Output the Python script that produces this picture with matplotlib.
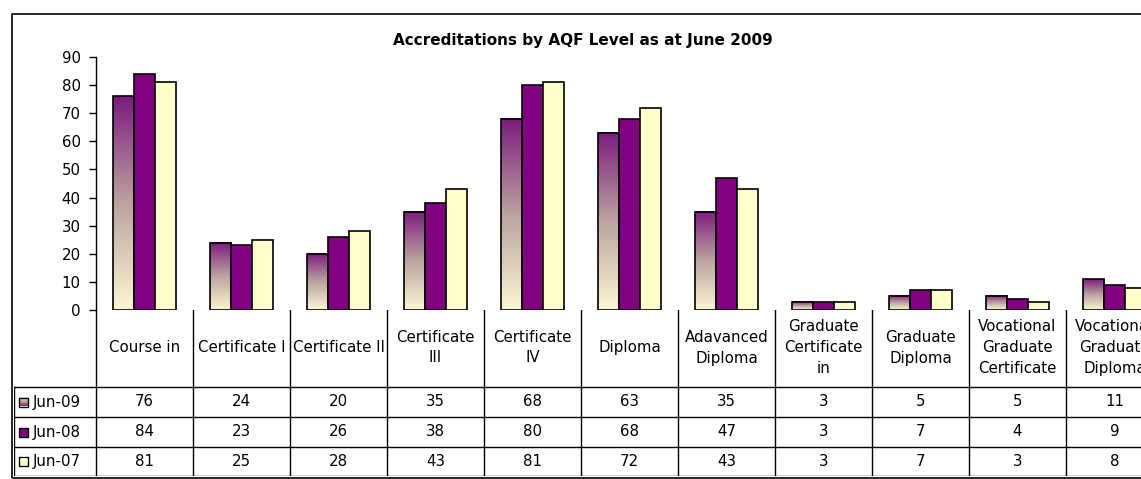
import matplotlib
matplotlib.use("Agg")
import matplotlib.pyplot as plt
import numpy as np
from matplotlib.colors import LinearSegmentedColormap
from matplotlib.patches import Rectangle

plt.rcParams['font.family'] = ['DejaVu Sans']

categories = ["Course in", "Certificate I", "Certificate II", "Certificate\nIII",
              "Certificate\nIV", "Diploma", "Adavanced\nDiploma",
              "Graduate\nCertificate\nin", "Graduate\nDiploma",
              "Vocational\nGraduate\nCertificate", "Vocational\nGraduate\nDiploma"]
series = ["Jun-09", "Jun-08", "Jun-07"]
jun09 = [76, 24, 20, 35, 68, 63, 35, 3, 5, 5, 11]
jun08 = [84, 23, 26, 38, 80, 68, 47, 3, 7, 4, 9]
jun07 = [81, 25, 28, 43, 81, 72, 43, 3, 7, 3, 8]
values = [jun09, jun08, jun07]
title = "Accreditations by AQF Level as at June 2009"

W, H = 1141, 479
fig = plt.figure(figsize=(W / 100, H / 100), dpi=100)

# gradient for Jun-09 (bottom cream -> top purple)
grad = LinearSegmentedColormap.from_list(
    "g", [(0.0, "#fbf7d2"), (0.5, "#bba3a0"), (1.0, "#7d1c7d")])
solid = {1: "#800080", 2: "#ffffcc"}
fs = 10.8

col_w = 97
x_left = 96
ax = fig.add_axes([x_left / W, 1 - 310 / H, 11 * col_w / W, (310 - 57) / H])
n = len(categories)
bw = 0.217
for s in range(3):
    for i in range(n):
        x0 = i + (s - 1.5) * bw
        v = values[s][i]
        if s == 0:
            g = np.linspace(0, 1, 200).reshape(-1, 1)
            ax.imshow(g, cmap=grad, origin="lower", aspect="auto",
                      extent=[x0, x0 + bw, 0, v], zorder=2)
            ax.add_patch(Rectangle((x0, 0), bw, v, fill=False,
                                   edgecolor="black", lw=1.2, zorder=3))
        else:
            ax.add_patch(Rectangle((x0, 0), bw, v, facecolor=solid[s],
                                   edgecolor="black", lw=1.2, zorder=3))
ax.set_xlim(-0.5, n - 0.5)
ax.set_ylim(0, 90)
ax.set_yticks(range(0, 91, 10))
ax.set_xticks([])
for sp in ["top", "right", "bottom"]:
    ax.spines[sp].set_visible(False)
ax.spines["left"].set_linewidth(1.0)
ax.tick_params(axis="y", length=5, width=1, labelsize=fs, pad=6)
ax.patch.set_alpha(0)

# data table below the plot
left_extra = (x_left - 14) / col_w
tb = fig.add_axes([14 / W, 1 - 476 / H, (x_left - 14 + 11 * col_w) / W, (476 - 310) / H])
tb.axis("off")
rows = [310, 387, 417, 447, 476]
lc = "black"
for i in range(n + 1):
    tb.plot([i - 0.5, i - 0.5], [310, 476], color=lc, lw=1)
for r in rows[1:]:
    tb.plot([-0.5 - left_extra, n - 0.5], [r, r], color=lc, lw=1)
tb.plot([-0.5 - left_extra, -0.5 - left_extra], [387, 476], color=lc, lw=1)
for i, c in enumerate(categories):
    tb.text(i, (310 + 387) / 2 - 1, c, ha="center", va="center", fontsize=fs,
            linespacing=1.5)
for s in range(3):
    yc = (rows[s + 1] + rows[s + 2]) / 2
    for i in range(n):
        tb.text(i, yc, str(values[s][i]), ha="center", va="center", fontsize=fs)
    kx = -0.5 - left_extra + 5 / col_w
    kw = 9 / col_w
    if s == 0:
        g = np.linspace(0, 1, 50).reshape(-1, 1)
        tb.imshow(g, cmap=grad, origin="upper", aspect="auto",
                  extent=[kx, kx + kw, yc + 4.5, yc - 4.5], zorder=2)
        tb.add_patch(Rectangle((kx, yc - 4.5), kw, 9, fill=False,
                               edgecolor="black", lw=1, zorder=3))
    else:
        tb.add_patch(Rectangle((kx, yc - 4.5), kw, 9, facecolor=solid[s],
                               edgecolor="black", lw=1, zorder=3))
    tb.text(kx + kw + 5 / col_w, yc, series[s], ha="left", va="center", fontsize=fs)
tb.set_xlim(-0.5 - left_extra, n - 0.5)
tb.set_ylim(476, 310)

# outer chart frame
fig.patches.append(Rectangle((12 / W, 1 - 478 / H), 1200 / W, (478 - 14) / H,
                             transform=fig.transFigure, fill=False,
                             edgecolor="black", lw=1.2))

fig.text(583 / W, 1 - 40 / H, title, ha="center", va="center",
         fontsize=11, fontweight="bold")

fig.savefig("out.png", dpi=100)
